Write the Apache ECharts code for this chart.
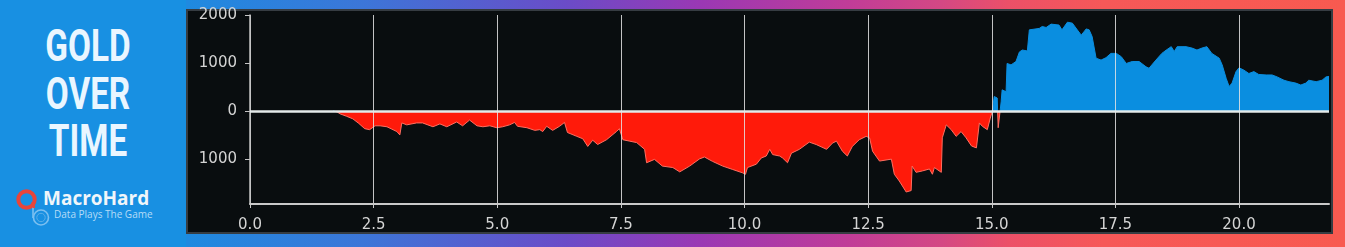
<!DOCTYPE html>
<html>
<head>
<meta charset="utf-8">
<script src="https://cdn.jsdelivr.net/npm/echarts@6/dist/echarts.min.js"></script>
<style>
  html, body { margin:0; padding:0; width:1345px; height:247px; overflow:hidden; }
  body {
    position:relative;
    background: linear-gradient(90deg, #1a8fe2 0%, #1f8ae0 14%, #3c76d8 27%, #6a4cc8 42%, #9a38b4 52%, #c03c98 63%, #d44884 70%, #ec5068 75%, #f65858 82%, #f85a50 100%);
  }
  #leftpanel { position:absolute; left:0; top:0; width:186px; height:247px; background:#1890e2; }
  .ttl { position:absolute; left:0; width:176px; text-align:center; font-family:Roboto, "DejaVu Sans", sans-serif; font-weight:700; font-size:45px; line-height:45px; color:#eaf6ff; transform:scaleX(0.74); transform-origin:88px 50%; white-space:nowrap; }
  #brand { position:absolute; left:43px; top:189px; font-family:"Open Sans", sans-serif; font-weight:700; font-size:19px; line-height:19px; color:#f0f6fa; white-space:nowrap; }
  #tag { position:absolute; left:54px; top:209px; font-family:"Open Sans", sans-serif; font-size:10px; line-height:10px; color:#b5dcf7; white-space:nowrap; }
  #logo { position:absolute; left:0; top:180px; }
  #panel { position:absolute; left:186px; top:9px; width:1147px; height:225px; box-sizing:border-box; background:#090d0f; border:2px solid #363c42; }
  #chart { position:absolute; left:0; top:0; width:1345px; height:247px; }
</style>
</head>
<body>
<div id="leftpanel"></div>
<div class="ttl" style="top:23px">GOLD</div>
<div class="ttl" style="top:71px">OVER</div>
<div class="ttl" style="top:118px">TIME</div>
<svg id="logo" width="60" height="50">
  <line x1="33" y1="22" x2="33" y2="38" stroke="#7cc0f0" stroke-width="1.6"/>
  <circle cx="41" cy="37.5" r="7.5" fill="none" stroke="#7cc0f0" stroke-width="1.6"/>
  <circle cx="41" cy="37.5" r="4.2" fill="none" stroke="#5aaee8" stroke-width="1"/>
  <circle cx="26.5" cy="19.5" r="8.2" fill="none" stroke="#e8453a" stroke-width="4"/>
  <line x1="32.5" y1="22" x2="34" y2="28" stroke="#e8453a" stroke-width="2.5"/>
</svg>
<div id="brand">MacroHard</div>
<div id="tag">Data Plays The Game</div>
<div id="panel"></div>
<div id="chart"></div>
<script>
// ---- data ----
const xValues = [1.68,1.72,1.76,1.82,1.95,2.08,2.20,2.32,2.42,2.53,2.63,2.77,2.97,3.03,3.07,3.17,3.37,3.49,3.70,3.84,3.98,4.18,4.30,4.44,4.59,4.71,4.85,4.99,5.11,5.25,5.35,5.41,5.60,5.76,5.86,5.92,6.00,6.12,6.26,6.36,6.42,6.61,6.73,6.83,6.93,7.03,7.21,7.41,7.47,7.54,7.68,7.82,7.98,8.02,8.18,8.34,8.55,8.69,8.89,9.09,9.19,9.35,9.56,9.76,9.96,10.02,10.06,10.24,10.34,10.44,10.51,10.57,10.71,10.77,10.87,10.95,11.11,11.31,11.45,11.66,11.78,11.86,11.98,12.08,12.18,12.32,12.46,12.53,12.59,12.73,12.97,13.03,13.13,13.27,13.37,13.39,13.47,13.60,13.74,13.80,13.84,13.98,14.00,14.08,14.18,14.28,14.38,14.48,14.59,14.69,14.75,14.81,14.91,14.97,15.01,15.05,15.11,15.13,15.17,15.19,15.21,15.29,15.31,15.39,15.49,15.56,15.62,15.72,15.76,15.96,16.02,16.10,16.20,16.36,16.42,16.53,16.63,16.73,16.81,16.91,16.97,17.03,17.11,17.21,17.31,17.41,17.52,17.62,17.72,17.84,17.98,18.12,18.18,18.32,18.44,18.53,18.63,18.69,18.75,18.93,19.05,19.15,19.25,19.35,19.45,19.60,19.66,19.74,19.80,19.86,19.94,20.00,20.10,20.20,20.30,20.40,20.55,20.67,20.77,20.91,21.01,21.15,21.25,21.35,21.41,21.56,21.68,21.76,21.82];
const goldValues = [0,40,-20,-60,-110,-165,-260,-370,-390,-310,-310,-330,-430,-500,-250,-290,-250,-250,-330,-270,-330,-230,-310,-190,-310,-330,-310,-350,-330,-290,-240,-320,-350,-405,-390,-430,-320,-405,-320,-240,-450,-530,-580,-740,-610,-700,-600,-430,-370,-600,-630,-660,-800,-1080,-1010,-1150,-1180,-1270,-1150,-1000,-960,-1050,-1150,-1220,-1290,-1320,-1180,-1110,-980,-940,-800,-910,-940,-980,-1080,-880,-800,-650,-700,-800,-670,-630,-840,-940,-740,-600,-530,-560,-840,-1045,-1005,-1320,-1460,-1690,-1660,-1150,-1280,-1250,-1210,-1320,-1180,-1280,-560,-290,-390,-530,-430,-560,-730,-770,-250,-320,-390,-150,-10,300,270,-350,-350,190,440,400,990,960,1030,1230,1270,1250,1690,1720,1760,1740,1810,1790,1690,1850,1830,1690,1580,1710,1690,1550,1100,1060,1110,1200,1200,1130,990,1030,1030,920,890,1060,1200,1270,1340,1240,1340,1340,1310,1270,1310,1340,1200,1100,960,680,510,580,820,900,850,780,820,760,750,750,710,640,610,580,540,580,640,610,640,710,720];
const yTickValues = [-1000, 0, 1000, 2000];
const xTickValues = [0, 2.5, 5, 7.5, 10, 12.5, 15, 17.5, 20];

const POS_COLOR = '#0a8ee0';
const NEG_COLOR = '#ff1a0a';
const NEG_EDGE = '#ff6e60';

const seriesData = xValues.map((x, i) => [x, goldValues[i]]);

// split colour at the zero level: fraction of the shape's vertical extent above 0
const dataMax = Math.max(...goldValues);
const dataMin = Math.min(...goldValues);
const zeroFrac = dataMax / (dataMax - dataMin);
function splitGradient(top, bottom) {
  return new echarts.graphic.LinearGradient(0, 0, 0, 1, [
    { offset: 0, color: top },
    { offset: zeroFrac, color: top },
    { offset: zeroFrac, color: bottom },
    { offset: 1, color: bottom }
  ]);
}

const chart = echarts.init(document.getElementById('chart'), null, { renderer: 'canvas' });
chart.setOption({
  animation: false,
  backgroundColor: 'transparent',
  grid: { left: 250, right: 16, top: 15, bottom: 43, containLabel: false, outerBoundsMode: 'none' },
  xAxis: {
    type: 'value', min: 0, max: 21.82, interval: 2.5, z: 5,
    axisLine: { show: true, onZero: false, lineStyle: { color: '#c9c9c9', width: 2 } },
    axisTick: { show: true, length: 4, customValues: xTickValues, lineStyle: { color: '#c9c9c9', width: 1 } },
    axisLabel: { color: '#d4d4d4', fontSize: 15, fontFamily: 'DejaVu Sans', margin: 14,
      customValues: xTickValues, formatter: v => Number(v).toFixed(1) },
    splitLine: { show: true, lineStyle: { color: 'rgba(228,228,228,0.85)', width: 1 } }
  },
  yAxis: {
    type: 'value', min: -1940, max: 2000, z: 5,
    axisLine: { show: true, onZero: false, lineStyle: { color: '#c4c4c4', width: 1.5 } },
    axisTick: { show: true, length: 5, customValues: yTickValues, lineStyle: { color: '#c4c4c4', width: 1 } },
    axisLabel: { color: '#d4d4d4', fontSize: 15, fontFamily: 'DejaVu Sans', margin: 13,
      padding: [3, 0, 0, 0],
      customValues: yTickValues, formatter: v => String(Math.abs(v)) },
    splitLine: { show: false }
  },
  series: [
    { type: 'line', data: seriesData, showSymbol: false, symbol: 'none', silent: true,
      lineStyle: { width: 1, color: splitGradient(POS_COLOR, NEG_EDGE) },
      areaStyle: { opacity: 1, origin: 0, color: splitGradient(POS_COLOR, NEG_COLOR) },
      z: 2,
      markLine: { silent: true, symbol: 'none', label: { show: false }, z: 10,
        lineStyle: { color: '#e4eaea', width: 2.5, type: 'solid' },
        data: [{ yAxis: 0 }] } }
  ]
});
</script>
</body>
</html>
